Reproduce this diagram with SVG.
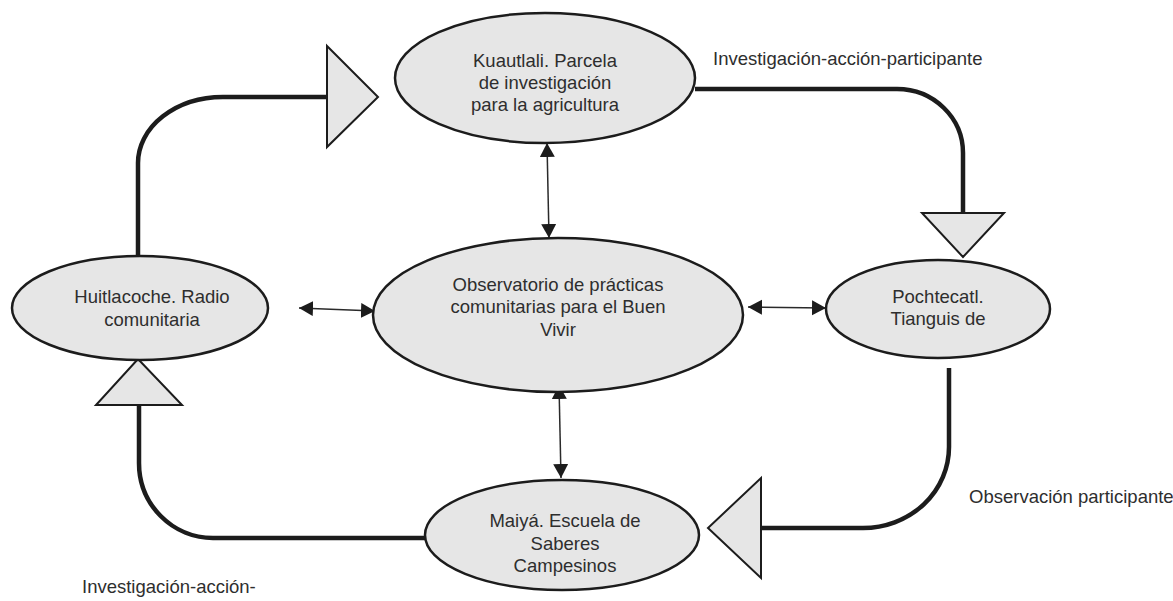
<svg xmlns="http://www.w3.org/2000/svg" width="1173" height="601" viewBox="0 0 1173 601">
<style>
.node ellipse{fill:#e6e6e6;stroke:#1c1c1c;stroke-width:2.5}
text{font-family:"Liberation Sans",Arial,sans-serif;font-size:18.5px;fill:#2e2e2e}
.c text{text-anchor:middle}
.flow{fill:none;stroke:#1c1c1c;stroke-width:4.5}
.tri{fill:#e6e6e6;stroke:#1c1c1c;stroke-width:2;stroke-linejoin:miter}
.link{fill:none;stroke:#2a2a2a;stroke-width:1.5;marker-start:url(#ah);marker-end:url(#ah)}
</style>
<defs>
<marker id="ah" markerUnits="userSpaceOnUse" markerWidth="16" markerHeight="16" refX="14" refY="7.5" orient="auto-start-reverse">
<path d="M0,0 L14,7.5 L0,15 Z" fill="#1c1c1c"/>
</marker>
</defs>
<rect width="1173" height="601" fill="#ffffff"/>

<g id="connectors">
<path class="flow" d="M138,257 L138,163 A85,66 0 0 1 223,97 L330,97"/>
<polygon class="tri" points="327,46 378,97 327,147"/>
<path class="flow" d="M695,89 L897,89 A66,64 0 0 1 963,153 L963,215"/>
<polygon class="tri" points="922,213 1004,213 963,257"/>
<path class="flow" d="M949,368 L949,447 A86,81 0 0 1 863,528 L759,528"/>
<polygon class="tri" points="761,478 761,578 708,528"/>
<path class="flow" d="M435,538 L213,538 A74,75 0 0 1 139,463 L139,403"/>
<polygon class="tri" points="96,405 182,405 138,359"/>
<line class="link" x1="547" y1="143" x2="549" y2="238"/>
<line class="link" x1="559" y1="385" x2="561" y2="478"/>
<line class="link" x1="299" y1="308" x2="375" y2="311"/>
<line class="link" x1="748" y1="307" x2="826" y2="308"/>
</g>

<g id="kuautlali" class="node c">
<ellipse cx="545" cy="78" rx="150" ry="65"/>
<text x="545" y="67">Kuautlali. Parcela</text>
<text x="545" y="89">de investigación</text>
<text x="545" y="111">para la agricultura</text>
</g>

<g id="observatorio" class="node c">
<ellipse cx="558" cy="315" rx="185" ry="77"/>
<text x="558" y="291">Observatorio de prácticas</text>
<text x="558" y="313">comunitarias para el Buen</text>
<text x="558" y="336">Vivir</text>
</g>

<g id="huitlacoche" class="node c">
<ellipse cx="140" cy="308" rx="128" ry="52"/>
<text x="152" y="303">Huitlacoche. Radio</text>
<text x="152" y="326">comunitaria</text>
</g>

<g id="pochtecatl" class="node c">
<ellipse cx="938" cy="309" rx="112" ry="49"/>
<text x="938" y="303">Pochtecatl.</text>
<text x="938" y="325">Tianguis de</text>
</g>

<g id="maiya" class="node c">
<ellipse cx="562" cy="535" rx="137" ry="55"/>
<text x="565" y="527">Maiyá. Escuela de</text>
<text x="565" y="550">Saberes</text>
<text x="565" y="572">Campesinos</text>
</g>

<g id="labels">
<text x="713" y="65">Investigación-acción-participante</text>
<text x="969" y="503">Observación participante</text>
<text x="82" y="593">Investigación-acción-</text>
</g>
</svg>
